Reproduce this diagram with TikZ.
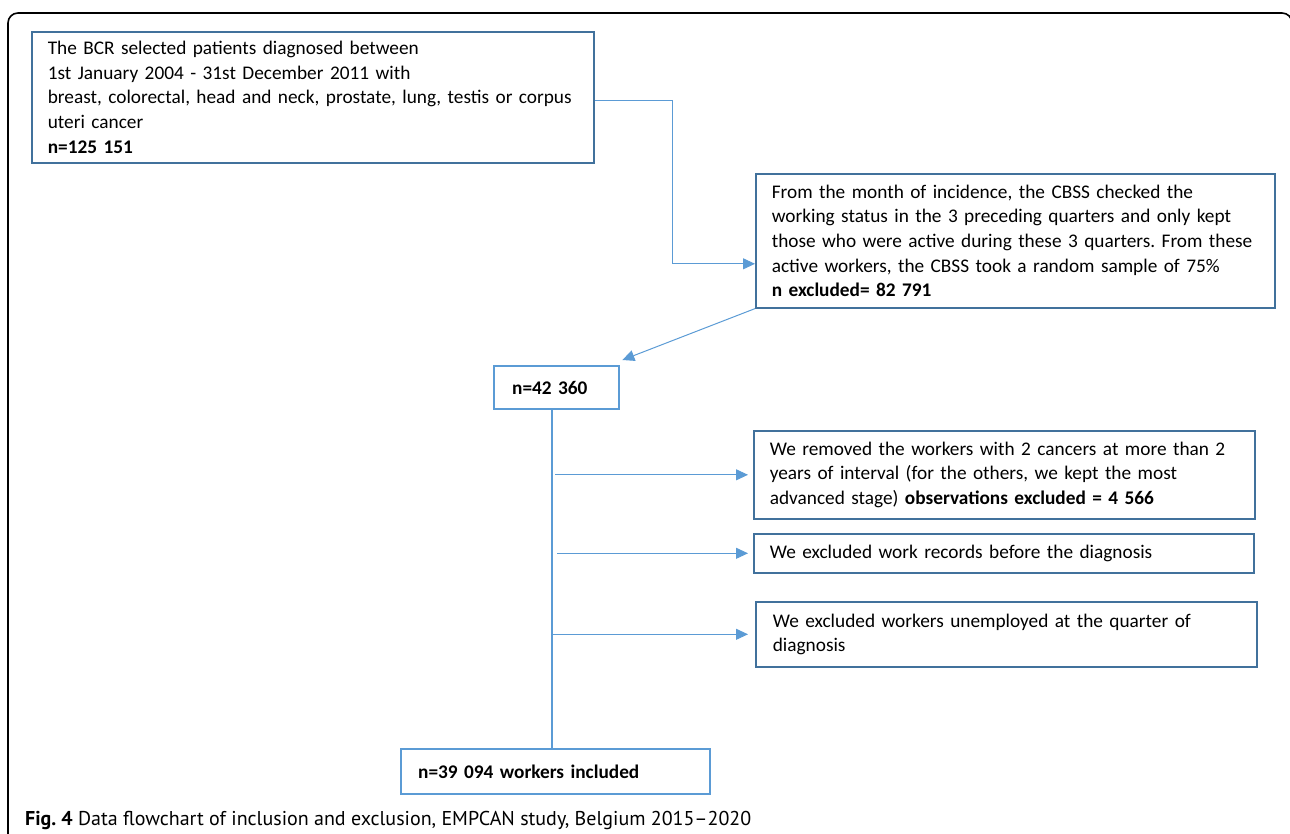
\documentclass[tikz,border=0pt]{standalone}
\usepackage{fontspec}
\setmainfont{Carlito}
\newfontfamily\capfont{PT Sans}
\usetikzlibrary{arrows.meta,calc}
\definecolor{boxdark}{RGB}{65,113,156}
\definecolor{boxlight}{RGB}{91,155,213}
\frenchspacing
\tikzset{
  txt/.style={font=\fontsize{19.3}{24.6}\selectfont\frenchspacing, align=left, inner xsep=16pt, inner ysep=0pt, anchor=north west},
  darkbox/.style={txt, draw=boxdark, line width=1.6pt},
  lightbox/.style={txt, draw=boxlight, line width=2.4pt},
  arr/.style={draw=boxlight, line width=1pt, -{Triangle[length=12pt,width=11pt]}},
  trunk/.style={draw=boxlight, line width=2pt},
}
\begin{document}
\begin{tikzpicture}[x=1pt,y=-1pt]
\useasboundingbox (0,0) rectangle (1290,833);
\clip (0,0) rectangle (1290,833);
\draw[black, line width=1.6pt, rounded corners=10pt] (8,13) rectangle (1292,900);

\node[darkbox, text width=530pt, minimum height=131pt] (b1) at (31,31)
 {The BCR selected patients diagnosed between\\
  1st January 2004 - 31st December 2011 with\\
  breast, colorectal, head and neck, prostate, lung, testis or corpus\\
  uteri cancer\\
  \textbf{n=125 151}};

\node[darkbox, text width=487pt, minimum height=134pt] (b2) at (755,173)
 {From the month of incidence, the CBSS checked the\\
  working status in the 3 preceding quarters and only kept\\
  those who were active during these 3 quarters. From these\\
  active workers, the CBSS took a random sample of 75\%\\
  \textbf{n excluded= 82 791}};

\node[lightbox, inner xsep=18pt, text width=89pt, minimum height=43pt] (b3) at (493,365)
 {\textbf{n=42 360}};

\node[darkbox, text width=469pt, minimum height=88pt] (b4) at (753,430)
 {We removed the workers with 2 cancers at more than 2\\
  years of interval (for the others, we kept the most\\
  advanced stage) \textbf{observations excluded = 4 566}};

\node[darkbox, text width=468pt, minimum height=39pt] (b5) at (753,533)
 {We excluded work records before the diagnosis};

\node[darkbox, inner xsep=17pt, text width=467pt, minimum height=65pt] (b6) at (755,601)
 {We excluded workers unemployed at the quarter of\\
  diagnosis};

\node[lightbox, inner xsep=17pt, text width=275pt, minimum height=45pt] (b7) at (400,748)
 {\textbf{n=39 094 workers included}};

\coordinate (c1) at (672,100);
\draw[arr] (b1.east |- c1) -- (c1) |- ([yshift=-23pt]b2.west);
\draw[arr] (b2.south west) -- ([xshift=2pt,yshift=5pt]b3.north east);
\coordinate (t0) at (552,408);
\draw[trunk] (t0 |- b3.south) -- (t0 |- b7.north);
\draw[arr] ([xshift=3pt]t0 |- b4.west) -- ([xshift=-5pt]b4.west);
\draw[arr] ([xshift=5pt]t0 |- b5.west) -- ([xshift=-5pt]b5.west);
\draw[arr] ([xshift=1pt]t0 |- b6.west) -- ([xshift=-7pt]b6.west);

\node[anchor=west, inner sep=0pt, font=\capfont\fontsize{20}{22}\selectfont] (cap) at (25,820)
 {\textbf{Fig. 4} Data flowchart of inclusion and exclusion, EMPCAN study, Belgium 2015–2020};
\end{tikzpicture}
\end{document}
